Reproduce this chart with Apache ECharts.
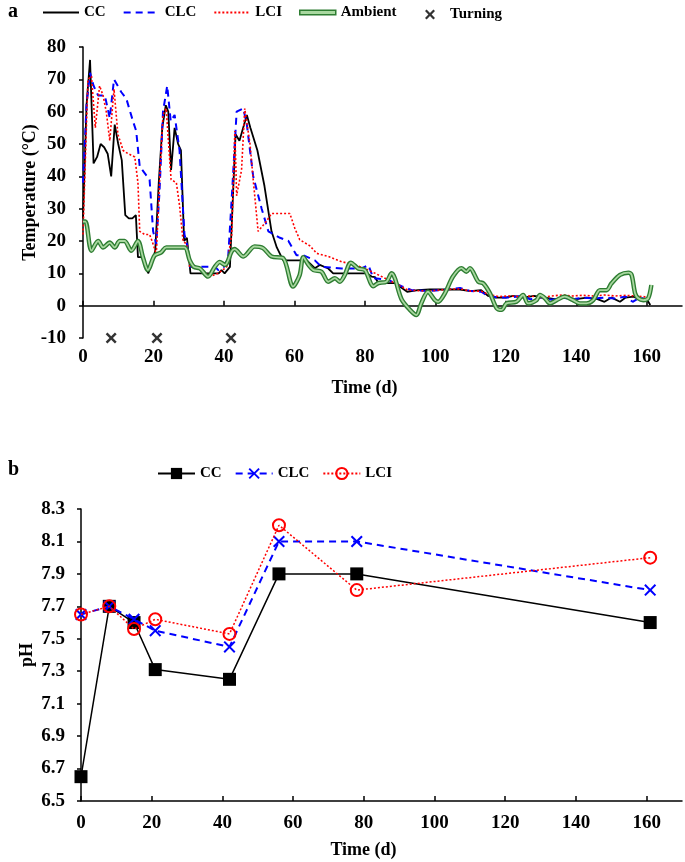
<!DOCTYPE html>
<html>
<head>
<meta charset="utf-8">
<script src="https://cdn.jsdelivr.net/npm/echarts@6/dist/echarts.min.js"></script>
<style>
html,body{margin:0;padding:0;background:#fff;}
#chart{width:685px;height:862px;}
</style>
</head>
<body>
<div id="chart"></div>
<script>
// ---------- Data (a) Temperature ----------
const ccTemp = [[0,27],[1,62],[2,76],[3,44],[4,46],[5,50],[6,49],[7,47],[8,40],[9,56],[10,50],[11,45],[12,28],[13,27],[14,27],[15,28],[15.6,15],[17,15],[18.5,10],[19.5,13],[20.5,17],[21.5,38],[22.5,55],[23.5,62],[24.2,60],[25,42],[26,55],[27,50],[27.8,48],[28.7,20],[29.5,21],[30.5,10],[38.5,10],[39.3,11],[40.2,10],[41.7,12],[42.6,35],[43.3,53],[44.4,51],[46.5,59],[47.5,55],[49.5,48],[51.5,37],[53.5,23],[55,18],[56.8,14],[63.5,14],[65.8,11.6],[67.2,12.6],[69.6,11.5],[71,10],[80.5,10],[81.9,9],[82.9,8.8],[83.8,7],[88.5,7],[92,4.3],[95,4.8],[98.4,5],[103,5],[107,5],[110,4.5],[113,4.8],[115,3],[117,2.5],[120,2.5],[122,3],[125,2.5],[128,3],[131,2.5],[134,2],[137,2.5],[140,2],[143,2.5],[146,2],[148,1.2],[150,2.5],[152.4,1.2],[154,2.5],[156.2,2.8],[158,2],[159,1.8],[160,2],[161,0.2]];
const clcTemp = [[0,38],[1,62],[2,72],[3,68],[4.3,65],[6.2,65],[7.6,58],[8.8,70],[10.9,66],[12.3,64],[14.2,57],[15.1,54],[16.1,43],[17.5,41],[18.9,39],[19.9,23],[20.8,19],[21.7,35],[22.7,60],[23.9,68],[24.9,57],[26,59],[27.4,48],[28.8,22],[29.5,19],[30.3,12],[37.5,12],[38.4,11],[40,12],[41.2,15],[42.2,33],[43.6,60],[45.5,61],[46.5,56],[48.3,40],[50.7,30],[52.6,23],[55.9,21],[58.3,20],[60.6,15.6],[62.5,15.6],[65.8,14],[67.7,12],[73.4,11.5],[79,11.5],[81,12.5],[82.4,8.5],[86.6,8],[90.4,6],[93.3,4.8],[98,4.5],[103,5],[107,5.5],[110,4.5],[113,4.3],[115,3],[118,2.5],[121,2.5],[124,3],[127,2],[130,2.5],[133,1.8],[136,2.5],[139,2],[142,2.5],[145,2.2],[148,2.5],[151,2.2],[154,2.8],[156,1.2],[158,2.5],[160,2],[161,0.8]];
const lciTemp = [[0,22],[1.4,70],[2.4,71],[3.5,55],[4.7,68],[5.7,65],[6.6,60],[7.6,51],[8.8,67],[9.9,53],[11.4,48],[12.8,47],[14.7,46],[15.6,38],[16.1,23],[17.5,22],[18.9,22],[19.6,20],[20.8,16],[21.8,40],[22.7,59],[23.6,61],[25,39],[26.5,38],[27.4,31],[28.4,20],[29.4,19],[30.3,12],[33,11.5],[36,9],[38.4,10],[40.8,12],[42.2,22],[43.1,54],[43.6,34],[45,42],[45.9,61],[47.4,50],[48.3,39],[49.7,23],[52,26],[53.5,28.5],[58.7,28.5],[60.1,24],[61.5,20.4],[64.4,18.5],[66.3,16.2],[69.6,15.2],[73.4,13.6],[77.2,12.6],[80,11.5],[82.9,10],[86.6,8],[89.5,6.4],[92.3,4.8],[98,4.5],[103,5],[107,5.2],[110,4.5],[113,4.5],[115,3.5],[118,2.8],[121,3],[124,2.8],[127,3],[130,2.5],[133,3],[136,3.3],[139,3],[142,3.2],[145,3],[148,3.3],[151,3],[154,3.2],[157,3],[159,2.8],[161,2.5]];
const ambientTemp = [[0,26],[0.7,26],[2.4,17],[4.3,20],[5.7,18],[7.6,19.5],[9,18],[10.4,20],[11.8,20],[13.7,17],[15.6,20],[17,15],[18.4,11],[20.3,15.5],[22.2,16.5],[23.6,18],[28.8,18],[30.3,14],[31.5,12],[33.2,11.5],[35.5,9],[37.4,12],[38.8,13.5],[40.3,12.6],[42.2,16.8],[43,17.5],[45.5,15.2],[48.7,18.3],[51.1,17.8],[53.5,15.2],[56.8,14.7],[59.6,5.9],[61.5,9.5],[62.5,15],[64,12.6],[65.4,11],[67.7,10.5],[69.6,7.4],[71.5,8.5],[72.9,7.4],[74.3,9.5],[76,13.3],[78.1,11.5],[80,11],[82.4,6],[83.8,7],[86.1,7.4],[87.6,10],[88.5,8.5],[90.4,2],[92.8,-1.3],[94.6,-2.9],[96,0.7],[97.9,4.3],[99.8,1.8],[100.8,1.2],[102.7,3.8],[105,9],[107.4,11.6],[108.8,10.5],[109.8,11.6],[112.2,7.4],[113.6,6.9],[115.5,3.8],[117.4,-0.8],[118.8,-1.3],[120.2,0.7],[123,1.2],[124.9,3.3],[126.3,0.7],[128.7,1.7],[129.7,3.3],[131.1,2.3],[132.5,0.7],[134.4,1.7],[136.7,2.8],[139.1,1.7],[141,0.7],[142.9,0.7],[144.8,1.7],[146.7,4.8],[148.6,4.8],[150,6.9],[152.4,9.5],[154.8,10.2],[155.7,9.5],[156.7,3.8],[157.6,2.3],[159,1.7],[160.4,2.3],[161.3,6.4]];
const turningDays = [8, 21, 42];
const turningLevel = -10;

// ---------- Data (b) pH ----------
const phDays = [0, 8, 15, 21, 42, 56, 78, 161];
const phCC  = [6.65, 7.70, 7.60, 7.31, 7.25, 7.90, 7.90, 7.60];
const phCLC = [7.65, 7.70, 7.62, 7.55, 7.45, 8.10, 8.10, 7.80];
const phLCI = [7.65, 7.70, 7.56, 7.62, 7.53, 8.20, 7.80, 8.00];

const xTickVals = [0, 20, 40, 60, 80, 100, 120, 140, 160];

// ---------- Styles ----------
const FONT = '"Liberation Serif", "Times New Roman", serif';
const X_PATH = 'path://M0,1.6L1.6,0L5,3.4L8.4,0L10,1.6L6.6,5L10,8.4L8.4,10L5,6.6L1.6,10L0,8.4L3.4,5Z';
const X_PATH_THIN = 'path://M0,1.2L1.2,0L5,3.8L8.8,0L10,1.2L6.2,5L10,8.8L8.8,10L5,6.2L1.2,10L0,8.8L3.8,5Z';
const lbl = {fontFamily: FONT, fontWeight: 'bold', fontSize: 19, color: '#000'};
const nameLbl = {fontFamily: FONT, fontWeight: 'bold', fontSize: 18, color: '#000'};
const legText = {fontFamily: FONT, fontWeight: 'bold', fontSize: 15, color: '#000'};
const axLine = {lineStyle: {color: '#000', width: 1.5}};

function xAxis(gridIndex, labelMargin, nameGap) {
  return {
    type: 'value', gridIndex: gridIndex, min: 0, max: 170, interval: 20,
    name: 'Time (d)', nameLocation: 'middle', nameGap: nameGap, nameMoveOverlap: false,
    nameTextStyle: Object.assign({}, nameLbl, {padding: [0, 36, 0, 0]}),
    axisLine: axLine,
    axisTick: {show: true, inside: true, length: 5, lineStyle: {color: '#000', width: 1.5}, customValues: xTickVals},
    axisLabel: Object.assign({}, lbl, {margin: labelMargin, customValues: xTickVals,
      formatter: v => (v > 165 ? '' : String(v))}),
    splitLine: {show: false}
  };
}

const pair = (xs, ys) => xs.map((x, i) => [x, ys[i]]);
const hideSym = {opacity: 0};

const chart = echarts.init(document.getElementById('chart'), null, {renderer: 'canvas'});
chart.setOption({
  backgroundColor: '#fff',
  animation: false,
  title: [
    {text: 'a', left: 3, top: -3, textStyle: {fontFamily: FONT, fontWeight: 'bold', fontSize: 20, color: '#000'}},
    {text: 'b', left: 3, top: 455, textStyle: {fontFamily: FONT, fontWeight: 'bold', fontSize: 20, color: '#000'}}
  ],
  legend: [
    {
      left: 42, top: 5, padding: 0, itemWidth: 36, itemHeight: 14, itemGap: 17,
      textStyle: legText,
      data: [
        {name: 'CC', itemStyle: hideSym},
        {name: 'CLC', itemStyle: hideSym},
        {name: 'LCI', itemStyle: hideSym},
        {name: 'Ambient', icon: 'path://M0,0L40,0L40,5L0,5Z',
         itemStyle: {color: '#a9d8a0', borderColor: '#2e7d32', borderWidth: 1.5}}]
    },
    {
      left: 425, top: 7, padding: 0, itemWidth: 30, itemHeight: 10,
      textStyle: legText,
      data: ['Turning']
    },
    {
      left: 157, top: 466, padding: 0, itemWidth: 37, itemHeight: 14, itemGap: 13,
      textStyle: legText,
      formatter: n => n.trim(),
      data: ['CC ', 'CLC ', 'LCI ']
    }
  ],
  grid: [
    {left: 83, top: 47, width: 599, height: 291},
    {left: 81, top: 509, width: 601, height: 292}
  ],
  xAxis: [xAxis(0, 10, 41), xAxis(1, 13, 40)],
  yAxis: [
    {
      type: 'value', gridIndex: 0, min: -10, max: 80, interval: 10,
      name: 'Temperature (°C)', nameLocation: 'middle', nameGap: 44, nameRotate: 90, nameMoveOverlap: false,
      nameTextStyle: nameLbl,
      axisLine: {show: true, lineStyle: {color: '#000', width: 1.5}},
      axisTick: {show: true, length: 4, lineStyle: {color: '#000', width: 1.5}},
      axisLabel: Object.assign({}, lbl, {margin: 17}),
      splitLine: {show: false}
    },
    {
      type: 'value', gridIndex: 1, min: 6.5, max: 8.3, interval: 0.2,
      name: 'pH', nameLocation: 'middle', nameGap: 45, nameRotate: 90, nameMoveOverlap: false,
      nameTextStyle: nameLbl,
      axisLine: {show: true, lineStyle: {color: '#000', width: 1.5}},
      axisTick: {show: true, length: 4, lineStyle: {color: '#000', width: 1.5}},
      axisLabel: Object.assign({}, lbl, {margin: 16, formatter: v => v.toFixed(1)}),
      splitLine: {show: false}
    }
  ],
  series: [
    {name: 'CC', type: 'line', xAxisIndex: 0, yAxisIndex: 0, data: ccTemp, symbol: 'none',
     lineStyle: {color: '#000', width: 1.8}, itemStyle: {color: '#000'}, z: 3},
    {name: 'CLC', type: 'line', xAxisIndex: 0, yAxisIndex: 0, data: clcTemp, symbol: 'none',
     lineStyle: {color: '#0000ff', width: 2, type: [7, 5]}, itemStyle: {color: '#0000ff'}, z: 3},
    {name: 'LCI', type: 'line', xAxisIndex: 0, yAxisIndex: 0, data: lciTemp, symbol: 'none',
     lineStyle: {color: '#ff0000', width: 1.6, type: [2, 2]}, itemStyle: {color: '#ff0000'}, z: 3},
    {name: 'Ambient', type: 'line', xAxisIndex: 0, yAxisIndex: 0, data: ambientTemp, symbol: 'none', smooth: 0.3,
     lineStyle: {color: '#2e7d32', width: 4.5}, itemStyle: {color: '#2e7d32'}, z: 4},
    {name: 'Ambient', type: 'line', xAxisIndex: 0, yAxisIndex: 0, data: ambientTemp, symbol: 'none', smooth: 0.3,
     lineStyle: {color: '#a9d8a0', width: 1.8}, itemStyle: {color: '#a9d8a0'}, z: 5},
    {name: 'Turning', type: 'scatter', xAxisIndex: 0, yAxisIndex: 0,
     data: turningDays.map(d => [d, turningLevel]), symbol: X_PATH, symbolSize: 11,
     itemStyle: {color: '#000'}, z: 6, clip: false},

    {name: 'CC ', type: 'line', xAxisIndex: 1, yAxisIndex: 1, data: pair(phDays, phCC),
     symbol: 'rect', symbolSize: 13, lineStyle: {color: '#000', width: 1.5},
     itemStyle: {color: '#000'}, z: 3},
    {name: 'CLC ', type: 'line', xAxisIndex: 1, yAxisIndex: 1, data: pair(phDays, phCLC),
     symbol: X_PATH_THIN, symbolSize: 12, lineStyle: {color: '#0000ff', width: 2, type: [7, 5]},
     itemStyle: {color: '#0000ff'}, z: 4},
    {name: 'LCI ', type: 'line', xAxisIndex: 1, yAxisIndex: 1, data: pair(phDays, phLCI),
     symbol: 'circle', symbolSize: 12, lineStyle: {color: '#ff0000', width: 1.5, type: [2, 2]},
     itemStyle: {color: 'rgba(255,255,255,0)', borderColor: '#ff0000', borderWidth: 2}, z: 5}
  ]
});
</script>
</body>
</html>
